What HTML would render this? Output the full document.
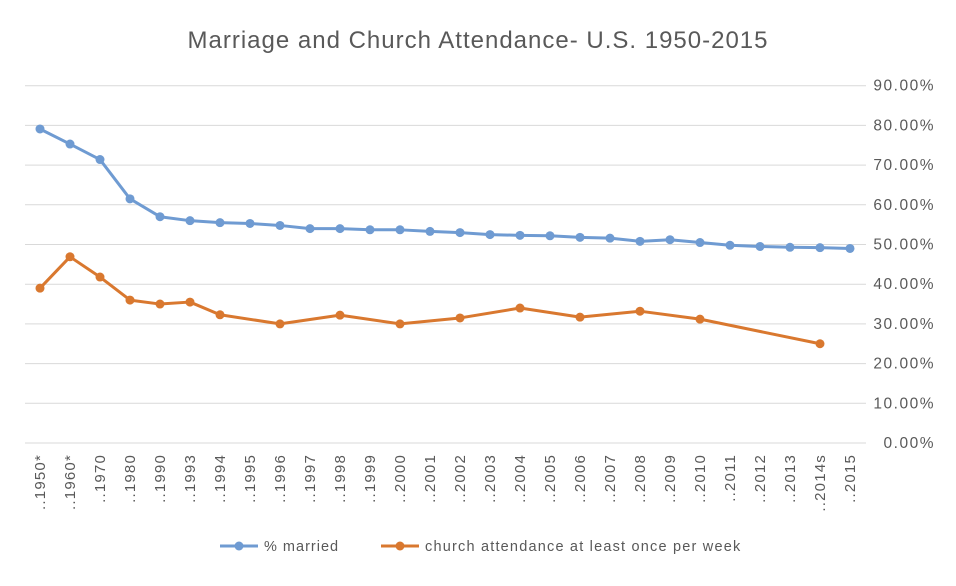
<!DOCTYPE html>
<html><head><meta charset="utf-8"><style>
body{margin:0;background:#fff;font-family:"Liberation Sans",sans-serif;}
svg text{font-family:"Liberation Sans",sans-serif;fill:#595959;}
</style></head><body>
<svg width="956" height="581">
<rect x="0" y="0" width="956" height="581" fill="#fff"/>
<text x="478" y="48" text-anchor="middle" font-size="24" letter-spacing="1">Marriage and Church Attendance- U.S. 1950-2015</text>
<g id="grid"></g><g id="xl"></g><g id="series"></g>
<g>
<g><line x1="220" y1="546" x2="258" y2="546" stroke="#6f9bd2" stroke-width="3"/><circle cx="239" cy="546" r="4.5" fill="#6f9bd2"/><text x="264" y="551" font-size="14.5" letter-spacing="1">% married</text></g>
<g><line x1="381" y1="546" x2="419" y2="546" stroke="#d9782f" stroke-width="3"/><circle cx="400" cy="546" r="4.5" fill="#d9782f"/><text x="425" y="551" font-size="14.5" letter-spacing="1.2">church attendance at least once per week</text></g>
</g>
</svg>
<script>
const categories=["..1950*","..1960*","..1970","..1980","..1990","..1993","..1994","..1995","..1996","..1997","..1998","..1999","..2000","..2001","..2002","..2003","..2004","..2005","..2006","..2007","..2008","..2009","..2010","..2011","..2012","..2013","..2014s","..2015"];
const married=[79.1,75.3,71.4,61.5,57,56,55.5,55.3,54.8,54,54,53.7,53.7,53.3,53,52.5,52.3,52.2,51.8,51.6,50.8,51.2,50.5,49.8,49.5,49.3,49.2,49];
const church=[39,46.9,41.8,36,35,35.5,32.3,null,30,null,32.2,null,30,null,31.5,null,34,null,31.7,null,33.2,null,31.2,null,null,null,25,null];
const yTicks=[0,10,20,30,40,50,60,70,80,90];
const NS="http://www.w3.org/2000/svg";
const x=i=>40+i*30, y=v=>443-v*3.97;
function mk(t,a,p){const e=document.createElementNS(NS,t);for(const k in a)e.setAttribute(k,a[k]);p.appendChild(e);return e;}
const grid=document.getElementById('grid');
yTicks.forEach(v=>{
 const l=mk('line',{x1:25,x2:866,y1:y(v),y2:y(v),stroke:'#d9d9d9','stroke-width':1},grid);
 
 
 const t=mk('text',{x:935,y:y(v)+5,'text-anchor':'end','font-size':15.5,'letter-spacing':1.5},grid);
 t.textContent=v.toFixed(2)+'%';
 
 
});
const xl=document.getElementById('xl');
categories.forEach((c,i)=>{
 const t=mk('text',{transform:`translate(${x(i)+5},454) rotate(-90)`,'text-anchor':'end','font-size':15,'letter-spacing':1.2},xl);
 t.textContent=c;
 
 
});
const sg=document.getElementById('series');
function draw(vals,col,name){
 const pts=[];vals.forEach((v,i)=>{if(v!=null)pts.push([x(i),y(v)]);});
 const p=mk('polyline',{points:pts.map(q=>q.join(',')).join(' '),fill:'none',stroke:col,'stroke-width':3,'stroke-linejoin':'round'},sg);
 
 
 pts.forEach(q=>{const c=mk('circle',{cx:q[0],cy:q[1],r:4.5,fill:col},sg);
 
 });
}
draw(married,'#6f9bd2','married');
draw(church,'#d9782f','church');
</script>
</body></html>
